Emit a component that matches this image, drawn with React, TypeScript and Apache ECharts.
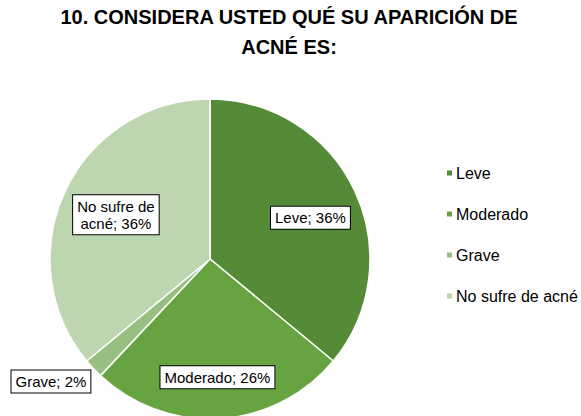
import React, { useEffect, useRef } from "react";
import * as echarts from "echarts";

const categories = ["Leve", "Moderado", "Grave", "No sufre de acné"];
const labelNames = ["Leve", "Moderado", "Grave", "No sufre de\nacné"];
const values = [36, 26, 2, 36];
const colors = ["#558A36", "#68A342", "#97BF80", "#BDD6B0"];
const titleText = "10. CONSIDERA USTED QUÉ SU APARICIÓN DE\nACNÉ ES:";

// label placement styling (radius factor, pixel nudges, alignment)
const labelRadius = [0.68, 0.74, 1.0, 0.65];
const labelNudge = [[2, 5], [0, 0], [-3, 13], [0, 0]];
const labelAlign = ["center", "center", "right", "center"];

const CX = 210;
const CY = 259;
const R = 160;

export default function App() {
  const ref = useRef<HTMLDivElement>(null);
  useEffect(() => {
    document.body.style.margin = "0";
    const chart = echarts.init(ref.current!, null, { renderer: "svg" });
    const total = values.reduce((a, b) => a + b, 0);
    const mids: number[] = [];
    let acc = 0;
    values.forEach((v) => {
      mids.push(((acc + v / 2) / total) * Math.PI * 2);
      acc += v;
    });
    chart.setOption({
      animation: false,
      title: {
        text: titleText,
        left: 289,
        textAlign: "center",
        top: 2,
        padding: 0,
        textStyle: {
          fontFamily: "Liberation Sans",
          fontSize: 20,
          fontWeight: "bold",
          color: "#000",
          lineHeight: 30,
        },
      },
      legend: {
        orient: "vertical",
        left: 445,
        top: 164,
        padding: 0,
        itemWidth: 7,
        itemHeight: 7,
        itemGap: 23,
        icon: "rect",
        data: categories,
        textStyle: {
          fontFamily: "Liberation Sans",
          fontSize: 16,
          lineHeight: 18,
          color: "#000",
          padding: [0, 0, 0, -2],
        },
      },
      series: [
        {
          type: "pie",
          center: [CX, CY],
          radius: R,
          startAngle: 90,
          clockwise: true,
          data: categories.map((c, i) => ({
            name: c,
            value: values[i],
            itemStyle: { color: colors[i] },
          })),
          itemStyle: { borderColor: "#fff", borderWidth: 1.5 },
          label: {
            show: true,
            position: "inside",
            formatter: (p: any) => `${labelNames[p.dataIndex]}; ${Math.round(p.percent)}%`,
            fontFamily: "Liberation Sans",
            fontSize: 15,
            lineHeight: 17,
            color: "#000",
            backgroundColor: "#fff",
            borderColor: "#000",
            borderWidth: 1,
            padding: [3, 4, 2, 4],
          },
          labelLine: { show: false },
          labelLayout: (p: any) => {
            const i = p.dataIndex;
            const a = mids[i];
            const r = R * labelRadius[i];
            return {
              x: CX + r * Math.sin(a) + labelNudge[i][0],
              y: CY - r * Math.cos(a) + labelNudge[i][1],
              align: labelAlign[i],
              verticalAlign: "middle",
            };
          },
          emphasis: { disabled: true },
        },
      ],
    });
    return () => chart.dispose();
  }, []);
  return <div ref={ref} style={{ width: 581, height: 416 }} />;
}
